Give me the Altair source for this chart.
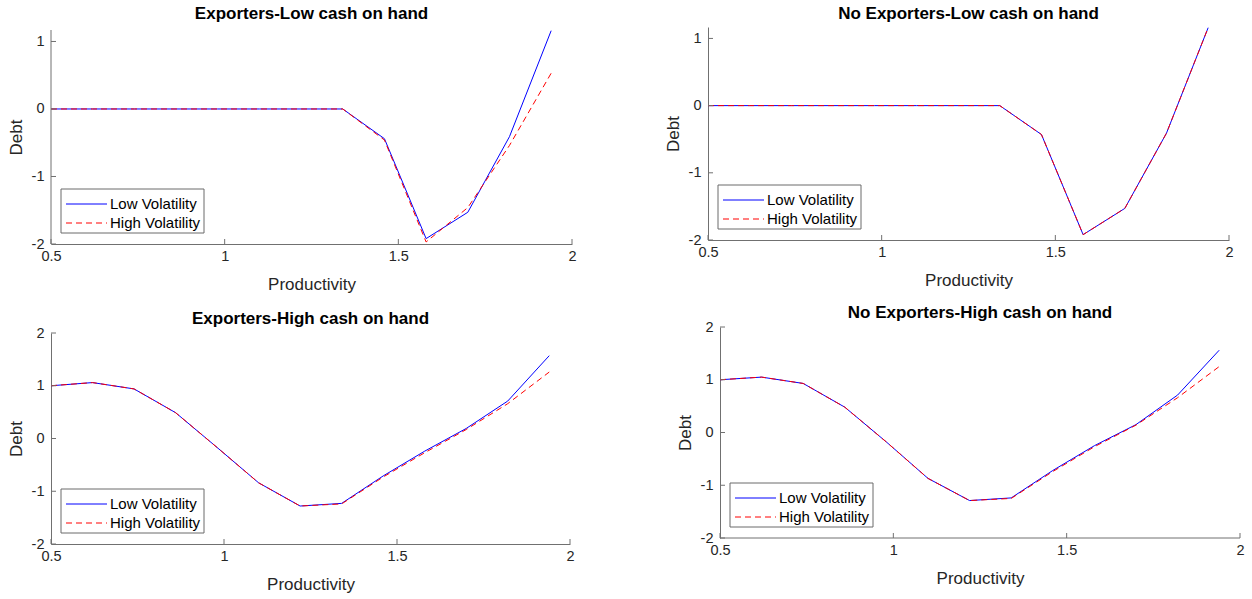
import altair as alt
import pandas as pd

# ---------------- data ----------------
productivity = [0.5, 0.62, 0.74, 0.86, 0.98, 1.10, 1.22, 1.34, 1.46, 1.58, 1.70, 1.82, 1.94]

exp_low_lowvol = [0, 0, 0, 0, 0, 0, 0, 0, -0.44, -1.92, -1.53, -0.41, 1.16]
exp_low_highvol = [0, 0, 0, 0, 0, 0, 0, 0, -0.46, -1.97, -1.46, -0.54, 0.53]

noexp_low_lowvol = [0, 0, 0, 0, 0, 0, 0, 0, -0.43, -1.92, -1.53, -0.41, 1.16]
noexp_low_highvol = [0, 0, 0, 0, 0, 0, 0, 0, -0.43, -1.92, -1.53, -0.41, 1.16]

exp_high_lowvol = [1.00, 1.06, 0.94, 0.49, -0.17, -0.84, -1.28, -1.23, -0.71, -0.24, 0.19, 0.71, 1.57]
exp_high_highvol = [1.00, 1.06, 0.94, 0.49, -0.17, -0.84, -1.28, -1.24, -0.73, -0.27, 0.17, 0.66, 1.26]

noexp_high_lowvol = [1.00, 1.05, 0.93, 0.48, -0.18, -0.87, -1.29, -1.24, -0.72, -0.25, 0.15, 0.71, 1.56]
noexp_high_highvol = [1.00, 1.05, 0.93, 0.48, -0.18, -0.87, -1.29, -1.25, -0.74, -0.27, 0.14, 0.66, 1.25]

x_ticks = [0.5, 1, 1.5, 2]
y_ticks_low = [-2, -1, 0, 1]
y_ticks_high = [-2, -1, 0, 1, 2]
series_names = ["Low Volatility", "High Volatility"]

FONT = "Liberation Sans"
AXIS_COLOR = "#707070"
TEXT_COLOR = "#262626"
LABEL_EXPR = "'' + datum.value"


def panel(title, low, high, ydomain, yticks, w, h, title_dy=13, pl=0, pt=0):
    """pl / pt: empty pixels kept left of / above the axes inside the view
    (to offset a panel inside an aligned concat grid)."""
    W, H = w + pl, h + pt
    x0 = 0.5 - pl * 1.5 / w
    ymin, ymax = ydomain
    ytop = ymax + pt * (ymax - ymin) / h
    xscale = alt.Scale(domain=[x0, 2], nice=False, zero=False)
    yscale = alt.Scale(domain=[ymin, ytop], nice=False, zero=False)
    xaxis = alt.Axis(values=x_ticks, title="Productivity", labelFlush=False,
                     ticks=False, grid=False, labelPadding=5, titlePadding=14,
                     labelExpr=LABEL_EXPR, domain=(pl == 0),
                     titleX=pl + w / 2 if pl else alt.Undefined)
    yaxis = alt.Axis(values=yticks, title="Debt", ticks=False, grid=False,
                     labelPadding=7, titlePadding=6, labelExpr=LABEL_EXPR,
                     domain=(pt == 0),
                     titleY=pt + h / 2 if pt else alt.Undefined,
                     offset=-pl if pl else alt.Undefined)

    def X(f):
        return alt.X(f, scale=xscale, axis=xaxis)

    def Y(f):
        return alt.Y(f, scale=yscale, axis=yaxis)

    df_low = pd.DataFrame({"Productivity": productivity, "Debt": low})
    df_high = pd.DataFrame({"Productivity": productivity, "Debt": high})

    line_low = alt.Chart(df_low).mark_line(color="#0000ff", strokeWidth=1).encode(
        x=X("Productivity:Q"), y=Y("Debt:Q"))
    line_high = alt.Chart(df_high).mark_line(color="#ff0000", strokeWidth=1,
                                             strokeDash=[6, 4]).encode(
        x=X("Productivity:Q"), y=Y("Debt:Q"))

    # inward ticks (MATLAB style)
    xt = alt.Chart(pd.DataFrame({"Productivity": x_ticks})).mark_rule(
        color=AXIS_COLOR, strokeWidth=1).encode(
        x=X("Productivity:Q"), y=alt.value(H), y2=alt.value(H - 5))
    yt = alt.Chart(pd.DataFrame({"Debt": yticks})).mark_rule(
        color=AXIS_COLOR, strokeWidth=1).encode(
        y=Y("Debt:Q"), x=alt.value(pl), x2=alt.value(pl + 5))

    # legend box
    one = pd.DataFrame({"k": [0]})
    box = alt.Chart(one).mark_rect(fill="white", stroke="#6a6a6a",
                                   strokeWidth=1).encode(
        x=alt.value(pl + 10), x2=alt.value(pl + 153),
        y=alt.value(H - 55), y2=alt.value(H - 11))
    leg_low = alt.Chart(one).mark_rule(color="#0000ff", strokeWidth=1).encode(
        x=alt.value(pl + 15), x2=alt.value(pl + 56), y=alt.value(H - 40))
    leg_high = alt.Chart(one).mark_rule(color="#ff0000", strokeWidth=1,
                                        strokeDash=[6, 4]).encode(
        x=alt.value(pl + 15), x2=alt.value(pl + 56), y=alt.value(H - 21))
    txt_low = alt.Chart(pd.DataFrame({"s": [series_names[0]]})).mark_text(
        align="left", baseline="middle", font=FONT, fontSize=15,
        color="black").encode(text="s:N", x=alt.value(pl + 59),
                              y=alt.value(H - 40))
    txt_high = alt.Chart(pd.DataFrame({"s": [series_names[1]]})).mark_text(
        align="left", baseline="middle", font=FONT, fontSize=15,
        color="black").encode(text="s:N", x=alt.value(pl + 59),
                              y=alt.value(H - 21))

    # panel title as a text mark placed above the plot area
    ttl = alt.Chart(pd.DataFrame({"s": [title]})).mark_text(
        align="center", baseline="middle", font=FONT, fontSize=17,
        fontWeight="bold", color="black").encode(
        text="s:N", x=alt.value(pl + w / 2), y=alt.value(-title_dy))

    layers = [line_low, line_high, xt, yt, box, leg_low, leg_high,
              txt_low, txt_high, ttl]
    if pl:
        # x-axis base line drawn from 0.5 to 2 only
        xbase = alt.Chart(pd.DataFrame({"Productivity": [0.5], "end": [2.0]})).mark_rule(
            color=AXIS_COLOR, strokeWidth=1).encode(
            x=X("Productivity:Q"), x2="end:Q", y=alt.value(H))
        layers.insert(2, xbase)
    if pt:
        # y-axis base line drawn over the axis range only
        ybase = alt.Chart(pd.DataFrame({"Debt": [ymin], "end": [ymax]})).mark_rule(
            color=AXIS_COLOR, strokeWidth=1).encode(
            y=Y("Debt:Q"), y2="end:Q", x=alt.value(pl))
        layers.insert(2, ybase)

    return alt.layer(*layers).properties(width=W, height=H)


tl = panel("Exporters-Low cash on hand", exp_low_lowvol, exp_low_highvol,
           [-2, 1.17], y_ticks_low, 521, 214, 13, pt=3)
tr = panel("No Exporters-Low cash on hand", noexp_low_lowvol, noexp_low_highvol,
           [-2, 1.17], y_ticks_low, 521, 213, 13)
bl = panel("Exporters-High cash on hand", exp_high_lowvol, exp_high_highvol,
           [-2, 2], y_ticks_high, 519, 211, 14)
br = panel("No Exporters-High cash on hand", noexp_high_lowvol, noexp_high_highvol,
           [-2, 2], y_ticks_high, 520, 211, 14, pl=12)

left_col = alt.vconcat(tl, bl, spacing=17)
right_col = alt.vconcat(tr, br, spacing=15)

chart = alt.hconcat(left_col, right_col, spacing=87).properties(
    padding={"left": 7, "top": 5, "right": 5, "bottom": 0}
).configure_view(stroke=None).configure_axis(
    labelFont=FONT, labelFontSize=14.5, labelColor=TEXT_COLOR,
    titleFont=FONT, titleFontSize=17, titleFontWeight="normal",
    titleColor=TEXT_COLOR, domainColor=AXIS_COLOR, domainWidth=1,
)

chart.save("out.html", embed_options={"renderer": "svg", "actions": False})
